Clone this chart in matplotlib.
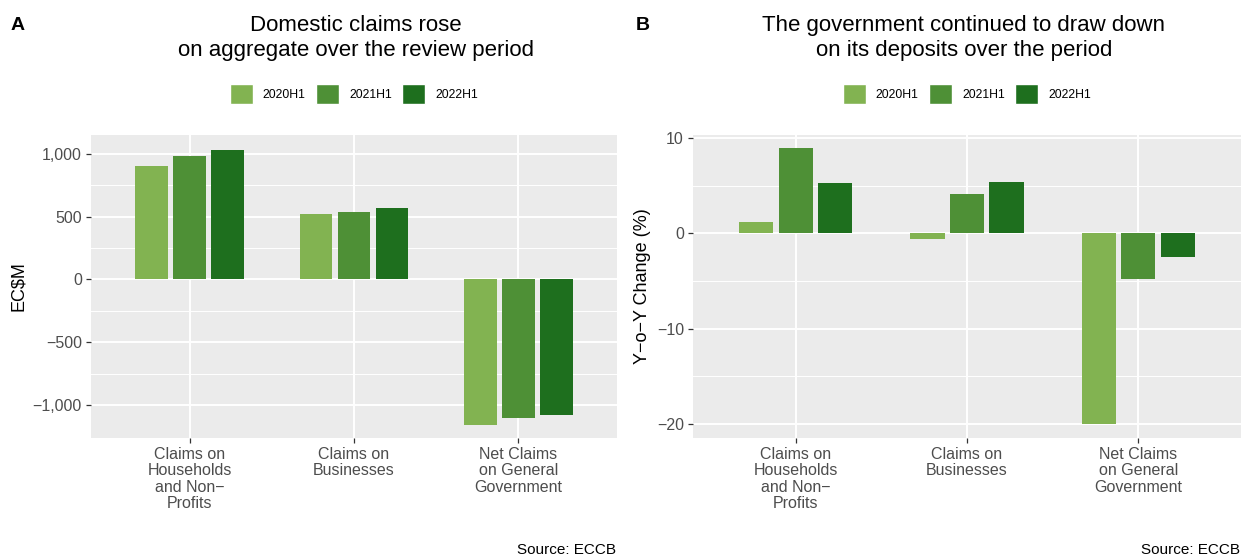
import matplotlib
matplotlib.use("Agg")
import matplotlib.pyplot as plt
from matplotlib.patches import Patch
import numpy as np

plt.rcParams['font.family'] = ['Liberation Sans', 'DejaVu Sans']

categories = ["Claims on\nHouseholds\nand Non\u2212\nProfits", "Claims on\nBusinesses",
              "Net Claims\non General\nGovernment"]
periods = ["2020H1", "2021H1", "2022H1"]
colors = ["#82B351", "#4E9036", "#1E6F1E"]

# Panel A: EC$M
claims_2020 = [907, 525, -1162]
claims_2021 = [987, 541, -1103]
claims_2022 = [1034, 573, -1082]

# Panel B: Y-o-Y change (%)
yoy_2020 = [1.22, -0.63, -20.07]
yoy_2021 = [8.95, 4.15, -4.84]
yoy_2022 = [5.3, 5.4, -2.5]

W, H = 1242, 557
fig = plt.figure(figsize=(W / 100, H / 100), dpi=100)

def px_axes(l, r, t, b):
    return fig.add_axes([l / W, 1 - b / H, (r - l) / W, (b - t) / H])

axA = px_axes(91, 617, 135, 438)
axB = px_axes(693, 1241, 135, 438)

def draw(ax, series, yticks, ylabels, yminor, ylim, ylabel):
    ax.set_facecolor("#EBEBEB")
    x = np.arange(1, len(categories) + 1)
    offs = [-0.231, 0.0, 0.231]
    for s, o, c, lab in zip(series, offs, colors, periods):
        ax.bar(x + o, s, width=0.2, color=c, label=lab, zorder=3)
    ax.set_xlim(0.4, 3.6)
    ax.set_ylim(*ylim)
    ax.set_yticks(yticks)
    ax.set_yticklabels(ylabels)
    ax.set_yticks(yminor, minor=True)
    ax.set_xticks(x)
    ax.set_xticklabels(categories, linespacing=1.12)
    ax.grid(which="major", color="white", linewidth=1.4, zorder=1)
    ax.grid(which="minor", axis="y", color="white", linewidth=0.7, zorder=1)
    ax.set_axisbelow(True)
    for sp in ax.spines.values():
        sp.set_visible(False)
    ax.tick_params(axis="both", which="major", length=3.5, width=0.9, color="#333333",
                   labelcolor="#4D4D4D", labelsize=11.5, pad=3)
    ax.tick_params(axis="both", which="minor", length=0)
    ax.set_ylabel(ylabel, fontsize=13, color="black", labelpad=4)

draw(axA, [claims_2020, claims_2021, claims_2022],
     [-1000, -500, 0, 500, 1000], ["\u22121,000", "\u2212500", "0", "500", "1,000"],
     [-750, -250, 250, 750], (-1264, 1152), "EC$M")
draw(axB, [yoy_2020, yoy_2021, yoy_2022],
     [-20, -10, 0, 10], ["\u221220", "\u221210", "0", "10"],
     [-15, -5, 5], (-21.5, 10.33), "Y\u2212o\u2212Y Change (%)")

# Titles
fig.text(356 / W, 1 - 38 / H, "Domestic claims rose\non aggregate over the review period",
         ha="center", va="center", fontsize=16, linespacing=1.3)
fig.text(964 / W, 1 - 38 / H, "The government continued to draw down\non its deposits over the period",
         ha="center", va="center", fontsize=16, linespacing=1.3)
fig.text(11 / W, 1 - 25 / H, "A", ha="left", va="center", fontsize=14, fontweight="bold")
fig.text(636 / W, 1 - 25 / H, "B", ha="left", va="center", fontsize=14, fontweight="bold")

# Legends
for ax in (axA, axB):
    handles = [Patch(facecolor=c, edgecolor="white", label=p) for c, p in zip(colors, periods)]
    ax.legend(handles=handles, ncol=3, loc="center", bbox_to_anchor=(0.5, 1 + (135 - 94) / 303),
              frameon=False, fontsize=8.8, handlelength=1.85, handleheight=2.1,
              handletextpad=0.85, columnspacing=0.85, borderaxespad=0)

# Source
fig.text(616 / W, 1 - 550 / H, "Source: ECCB", ha="right", va="center", fontsize=11)
fig.text(1240 / W, 1 - 550 / H, "Source: ECCB", ha="right", va="center", fontsize=11)

fig.savefig("out.png", dpi=100)
